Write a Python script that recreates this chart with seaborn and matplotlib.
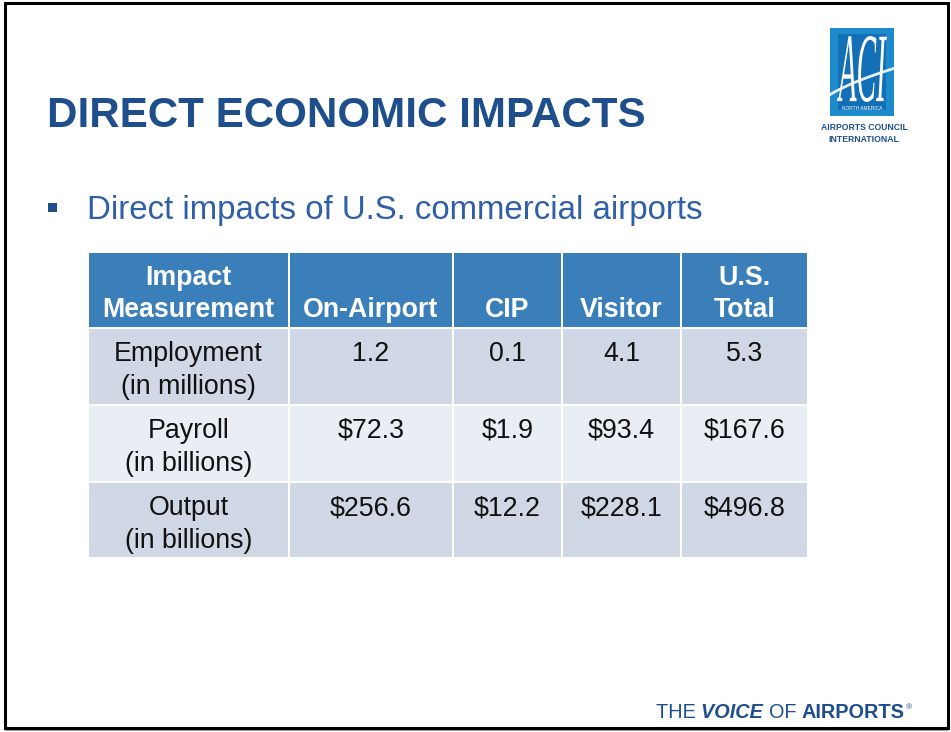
import matplotlib
matplotlib.use("Agg")
import matplotlib.pyplot as plt
import seaborn as sns
from matplotlib.patches import Rectangle, PathPatch
from matplotlib.textpath import TextPath
from matplotlib.font_manager import FontProperties
from matplotlib.transforms import Affine2D
import numpy as np

# ---- data ----
title = "DIRECT ECONOMIC IMPACTS"
bullet = "Direct impacts of U.S. commercial airports"
header = [["Impact", "Measurement"], ["On-Airport"], ["CIP"], ["Visitor"], ["U.S.", "Total"]]
row_labels = [["Employment", "(in millions)"], ["Payroll", "(in billions)"], ["Output", "(in billions)"]]
on_airport = ["1.2", "$72.3", "$256.6"]
cip = ["0.1", "$1.9", "$12.2"]
visitor = ["4.1", "$93.4", "$228.1"]
us_total = ["5.3", "$167.6", "$496.8"]

sns.set_theme(style="white")
plt.rcParams['font.family'] = ['Liberation Sans', 'DejaVu Sans']

W, H = 951, 732
fig = plt.figure(figsize=(W / 100, H / 100), dpi=100)
ax = fig.add_axes([0, 0, 1, 1])
ax.set_xlim(0, W)
ax.set_ylim(H, 0)
ax.axis("off")

navy = "#1F4E8C"
blue_txt = "#2F5FA8"
hdr_col = "#3A7FBA"
row_dark = "#D0D8E5"
row_light = "#E9EDF4"
fs_tab = 19.3

# slide border
ax.add_patch(Rectangle((5, 3), 943, 725, fill=False, edgecolor="black", lw=2.2, zorder=5))
ax.plot([6, 948], [729.5, 729.5], color="#888888", lw=1.2, zorder=4)

# title
ax.text(47, 116, title, fontsize=30.3, fontweight="bold", color=navy, ha="left", va="center")

# bullet
ax.add_patch(Rectangle((48, 203), 9, 9, color=navy, lw=0))
ax.text(87, 210, bullet, fontsize=23.8, color=blue_txt, ha="left", va="center")

# table geometry
col_edges = [88, 289, 453, 562, 681, 808]
row_edges = [253, 328, 405, 482, 558]
gap = 2.5
line_dy = 33

columns = [on_airport, cip, visitor, us_total]
row_fills = [row_dark, row_light, row_dark]

for j in range(5):
    x0, x1 = col_edges[j], col_edges[j + 1]
    xc = (x0 + x1) / 2
    # header cell
    ax.add_patch(Rectangle((x0 + gap / 2, row_edges[0]), x1 - x0 - gap, row_edges[1] - row_edges[0] - gap / 2,
                           color=hdr_col, lw=0))
    lines = header[j]
    for k, s in enumerate(lines):
        yy = 310 - (len(lines) - 1 - k) * 32
        ax.text(xc, yy, s, fontsize=fs_tab, fontweight="bold", color="white", ha="center", va="center")
    for i in range(3):
        y0, y1 = row_edges[i + 1], row_edges[i + 2]
        ax.add_patch(Rectangle((x0 + gap / 2, y0 + gap / 2), x1 - x0 - gap, y1 - y0 - gap,
                               color=row_fills[i], lw=0))
        lines = row_labels[i] if j == 0 else [columns[j - 1][i]]
        for k, s in enumerate(lines):
            ax.text(xc, y0 + 26 + k * line_dy, s, fontsize=fs_tab, color="#111111",
                    ha="center", va="center")

# logo
lx0, ly0, lw_, lh_ = 830, 28, 64, 88
ax.add_patch(Rectangle((lx0, ly0), lw_, lh_, color="#1C8ACB", lw=0))
ax.add_patch(Rectangle((lx0 + 8, ly0 + 6), lw_ - 16, lh_ - 12, color="#0E5EA8", lw=0, alpha=0.6))
fp = FontProperties(family="Liberation Serif", style="italic")
tp = TextPath((0, 0), "ACI", size=10, prop=fp)
bb = tp.get_extents()
sx = 50 / bb.width
sy = 66 / bb.height
tr = Affine2D().translate(-bb.x0, -bb.y0).scale(sx, -sy).translate(lx0 + 7, ly0 + 74) + ax.transData
ax.add_patch(PathPatch(tp, transform=tr, facecolor="white", edgecolor="none"))
xs = np.linspace(815, 905, 50)
ys = 110 - 45 * ((xs - 815) / 90) ** 0.6
ax.plot(xs, ys, color="white", lw=2.0, alpha=0.9)
ax.text(lx0 + lw_ / 2, ly0 + 81, "NORTH AMERICA", fontsize=3.5, color="white", ha="center", va="center")
ax.text(lx0 + lw_ / 2 + 2, 128, "AIRPORTS COUNCIL", fontsize=6.2, fontweight="bold", color=navy,
        ha="center", va="center")
ax.text(lx0 + lw_ / 2 + 2, 140, "INTERNATIONAL", fontsize=6.2, fontweight="bold", color=navy,
        ha="center", va="center")

# footer: THE VOICE OF AIRPORTS®
fig.canvas.draw()
renderer = fig.canvas.get_renderer()
parts = [("THE ", "normal", "normal"), ("VOICE ", "bold", "italic"), ("OF ", "normal", "normal"),
         ("AIRPORTS", "bold", "normal")]
x = 656
inv = ax.transData.inverted()
for s, wgt, sty in parts:
    t = ax.text(x, 713, s, fontsize=14.3, fontweight=wgt, fontstyle=sty, color=navy, ha="left", va="center")
    bbx = t.get_window_extent(renderer=renderer)
    p0 = inv.transform((bbx.x0, bbx.y0))
    p1 = inv.transform((bbx.x1, bbx.y0))
    x += p1[0] - p0[0]
ax.text(x + 1, 708, "®", fontsize=6, color=navy, ha="left", va="center")

fig.savefig("out.png", dpi=100)
